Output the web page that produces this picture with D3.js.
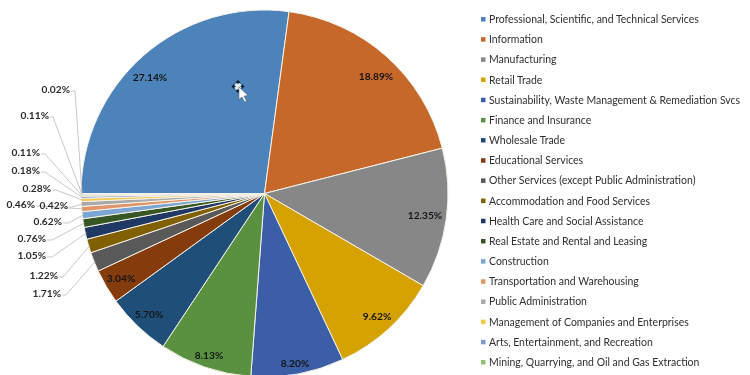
<!DOCTYPE html>
<html><head><meta charset="utf-8">
<script src="https://cdn.jsdelivr.net/npm/d3@7/dist/d3.min.js"></script>
<style>html,body{margin:0;padding:0;background:#fff;overflow:hidden}svg{display:block;filter:blur(0.3px)}text{font-family:Lato,"Open Sans",sans-serif}</style>
</head><body><svg id="c" width="750" height="375"></svg>
<script>
const categories = ["Professional, Scientific, and Technical Services","Information","Manufacturing","Retail Trade","Sustainability, Waste Management & Remediation Svcs","Finance and Insurance","Wholesale Trade","Educational Services","Other Services (except Public Administration)","Accommodation and Food Services","Health Care and Social Assistance","Real Estate and Rental and Leasing","Construction","Transportation and Warehousing","Public Administration","Management of Companies and Enterprises","Arts, Entertainment, and Recreation","Mining, Quarrying, and Oil and Gas Extraction"];
const values = [27.14,18.89,12.35,9.62,8.20,8.13,5.70,3.04,1.71,1.22,1.05,0.76,0.62,0.46,0.42,0.28,0.18,0.11,0.11,0.02];
const colors = ["#4d83bb","#c5682a","#878787","#d5a202","#3a5fa6","#5a9140","#1f4e79","#843c0c","#595959","#806000","#1f3864","#375623","#7ba6d3","#e0966a","#a9a9a9","#eec94a","#7f9bcf","#92bf72","#c5d9ee","#f2c9a8"];

// label layout (separate from data): inner [cx,cy]; outer [x,y,elbowX]
const innerPos = [[150,77],[376,76],[425,215],[377,316],[295,363],[209,355],[149,314],[121,278]];
const outerPos = {8:[61,293,66],9:[58,275,63],10:[46,255,52],11:[46,238,52],12:[62,221,68],13:[35,204,40],14:[68,205,72],15:[51,188,56],16:[40,170,45],17:[40,152,45],18:[49,115,53],19:[70,89,75]};

const cx=264.5, cy=193.5, R=183.5;
const svg=d3.select("#c");
const pie=d3.pie().value(d=>d).sort(null).startAngle(-Math.PI/2).endAngle(1.5*Math.PI);
const arcs=pie(values);
const arc=d3.arc().innerRadius(0).outerRadius(R);
const edge=d3.arc().innerRadius(R-1).outerRadius(R-1);
const fmt=v=>v.toFixed(2)+"%";

const g=svg.append("g").attr("transform",`translate(${cx},${cy})`);
g.selectAll("path").data(arcs).join("path").attr("d",arc).attr("fill",(d,i)=>colors[i]).attr("stroke","#f6f1e8").attr("stroke-width",1);

const lines=svg.append("g").attr("fill","none").attr("stroke","#c2c2c2").attr("stroke-width",0.9);
arcs.forEach((a,i)=>{
  const p=outerPos[i]; if(!p) return;
  const e=edge.centroid(a);
  lines.append("path").attr("d",d3.line()([[p[0]+1,p[1]+2],[p[2],p[1]+2],[cx+e[0],cy+e[1]]]));
});

const t=svg.append("g").attr("font-size",10.2).attr("font-weight",700).attr("fill","#151515");
arcs.forEach((a,i)=>{
  if(i<innerPos.length){
    t.append("text").attr("x",innerPos[i][0]).attr("y",innerPos[i][1]).attr("text-anchor","middle").attr("dominant-baseline","central").text(fmt(values[i]));
  } else {
    const p=outerPos[i];
    t.append("text").attr("x",p[0]).attr("y",p[1]).attr("text-anchor","end").attr("dominant-baseline","central").attr("fill","#2b2b2b").text(fmt(values[i]));
  }
});

const y=d3.scalePoint().domain(categories).range([19,362]);
const leg=svg.append("g");
categories.forEach((c,i)=>{
  leg.append("rect").attr("x",481).attr("y",y(c)-2).attr("width",4.5).attr("height",4.5).attr("fill",colors[i]);
  leg.append("text").attr("x",489).attr("y",y(c)).attr("dominant-baseline","central").attr("font-size",10.47).attr("fill","#2f2f2f").text(c);
});

// on-screen mouse cursor captured in the screenshot
const cur=svg.append("g").attr("transform","translate(238,86.5)");
cur.append("circle").attr("r",3.5).attr("fill","#dfe7ef");
cur.append("path").attr("d","M-6 0H-2.5M2.5 0H6M0-6V-2.5M0 2.5V6M-6 0l2-2v4zM6 0l-2-2v4zM0-6l-2 2h4zM0 6l-2-2h4z").attr("stroke","#14263a").attr("stroke-width",1).attr("fill","#14263a");
cur.append("path").attr("d","M1 0.5L1 13L4 10.5L6.5 15.5L8.5 14.5L6 9.5L10 9Z").attr("fill","#fff").attr("stroke","#555").attr("stroke-width",0.5);
</script></body></html>
